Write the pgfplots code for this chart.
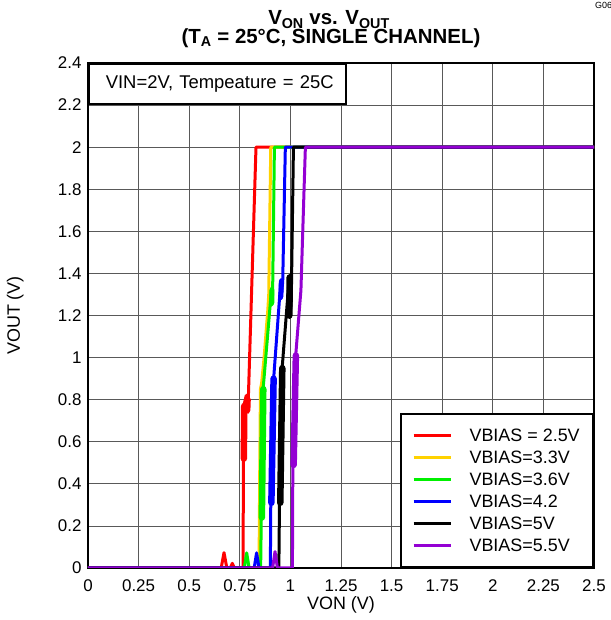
\documentclass[border=0pt]{standalone}
\usepackage{pgfplots}
\pgfplotsset{compat=1.18}
\usepackage{fontspec}
\setmainfont{Liberation Sans}
\definecolor{cred}{RGB}{255,0,0}
\definecolor{cyel}{RGB}{255,210,0}
\definecolor{cgrn}{RGB}{0,240,0}
\definecolor{cblu}{RGB}{0,0,255}
\definecolor{cblk}{RGB}{0,0,0}
\definecolor{cpur}{RGB}{148,0,211}
\begin{document}
\begin{tikzpicture}
\path[use as bounding box] (-88bp,-52bp) rectangle (523bp,568bp);
\begin{axis}[
  scale only axis, width=506bp, height=505bp,
  xmin=0, xmax=2.5, ymin=0, ymax=2.4,
  xtick={0,0.25,...,2.5}, ytick={0,0.2,...,2.4},
  xticklabels={0,0.25,0.5,0.75,1,1.25,1.5,1.75,2,2.25,2.5},
  yticklabels={0,0.2,0.4,0.6,0.8,1,1.2,1.4,1.6,1.8,2,2.2,2.4},
  major tick length=0pt,
  grid=major, major grid style={black!65, line width=0.8bp},
  axis line style={black, line width=1.6bp},
  tick label style={font=\fontsize{17}{20}\selectfont},
  xticklabel style={yshift=-8bp},
  yticklabel style={xshift=-3bp},
  /pgf/number format/assume math mode=true,
  xlabel={VON (V)}, ylabel={VOUT (V)},
  label style={font=\fontsize{18}{21}\selectfont},
  xlabel style={at={(axis description cs:0.5,-0.0733)}, anchor=center},
  ylabel style={at={(axis description cs:-0.144,0.5)}, anchor=center},
  every axis plot/.append style={line width=3bp, line join=round},
  thick seg/.style={forget plot, line width=6.5bp, line cap=round},
  legend cell align=left,
  legend style={at={(1,0)}, anchor=south east, draw=black, line width=1.6bp, fill=white,
    font=\fontsize{18}{21}\selectfont, inner xsep=11bp, inner ysep=12bp,
    row sep=3bp, nodes={inner sep=2.5bp},
    /tikz/every odd column/.append style={column sep=15bp}},
  legend image code/.code={\draw[#1, line width=3bp] (0bp,0bp) -- (37bp,0bp);},
]
\addplot[color=cred] coordinates {(0,0)(0.658,0)(0.672,0.073)(0.686,0)(0.703,0)(0.713,0.022)(0.723,0)(0.766,0)(0.768,0.50)
(0.772,0.78)(0.782,0.82)(0.786,0.76)(0.790,0.74)(0.792,0.80)(0.830,2.0)(2.5,2)};
\addlegendentry{VBIAS = 2.5V}
\addplot[color=cred, thick seg] coordinates {(0.770,0.52)(0.772,0.77)};
\addplot[color=cred, thick seg, line width=5bp] coordinates {(0.790,0.75)(0.792,0.80)};
\addplot[color=cyel] coordinates {(0,0)(0.845,0)(0.848,0.40)(0.852,0.85)(0.858,0.88)(0.870,1.00)(0.883,1.16)(0.888,1.22)(0.893,1.30)(0.903,2.0)(2.5,2)};
\addlegendentry{VBIAS=3.3V}
\addplot[color=cgrn] coordinates {(0,0)(0.772,0)(0.784,0.072)(0.796,0)(0.853,0)(0.856,0.23)
(0.866,0.86)(0.907,1.33)(0.908,1.25)(0.912,1.30)(0.921,2.0)(2.5,2)};
\addlegendentry{VBIAS=3.6V}
\addplot[color=cgrn, thick seg] coordinates {(0.859,0.24)(0.866,0.85)};
\addplot[color=cgrn, thick seg, line width=5bp] coordinates {(0.908,1.26)(0.909,1.32)};
\addplot[color=cblu] coordinates {(0,0)(0.821,0)(0.833,0.072)(0.845,0)(0.901,0)(0.903,0.30)
(0.918,0.91)(0.953,1.37)(0.954,1.28)(0.962,1.36)(0.975,2.0)(2.5,2)};
\addlegendentry{VBIAS=4.2}
\addplot[color=cblu, thick seg] coordinates {(0.906,0.31)(0.917,0.90)};
\addplot[color=cblu, thick seg, line width=5bp] coordinates {(0.953,1.29)(0.955,1.36)};
\addplot[color=cblk] coordinates {(0,0)(0.943,0)(0.946,0.30)
(0.960,0.96)(0.995,1.39)(0.996,1.19)(1.004,1.25)(1.015,2.0)(2.5,2)};
\addlegendentry{VBIAS=5V}
\addplot[color=cblk, thick seg] coordinates {(0.950,0.31)(0.960,0.95)};
\addplot[color=cblk, thick seg] coordinates {(0.995,1.20)(0.996,1.38)};
\addplot[color=cpur] coordinates {(0,0)(0.912,0)(0.924,0.078)(0.936,0)(1.010,0)(1.012,0.48)
(1.027,1.02)(1.052,1.32)(1.074,2.0)(2.5,2)};
\addlegendentry{VBIAS=5.5V}
\addplot[color=cpur, thick seg] coordinates {(1.016,0.49)(1.027,1.01)};
\node[anchor=north west, draw=black, fill=white, line width=1.6bp, inner xsep=0pt, inner ysep=0pt,
  minimum height=40bp, text width=257bp, align=left, font=\fontsize{18.5}{21}\selectfont]
  at (rel axis cs:0,1) {\hspace*{17bp}VIN=2V, Tempeature = 25C};
\end{axis}
\node[anchor=base, font=\bfseries\fontsize{20.5}{23}\selectfont] at (241bp,543bp) {V\textsubscript{ON} vs. V\textsubscript{OUT}};
\node[anchor=base, font=\bfseries\fontsize{20.5}{23}\selectfont] at (243bp,524.7bp) {(T\textsubscript{A} = 25°C, SINGLE CHANNEL)};
\node[anchor=base west, font=\fontsize{9}{10}\selectfont, inner sep=0pt] at (507bp,559bp) {G06};
\end{tikzpicture}
\end{document}
